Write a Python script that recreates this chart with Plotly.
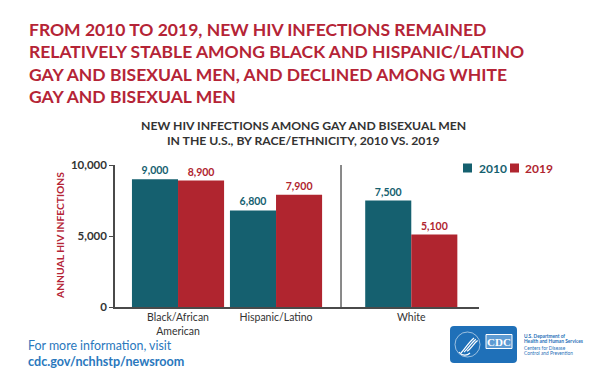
import plotly.graph_objects as go

# ---------------- data ----------------
categories = ["Black/African<br>American", "Hispanic/Latino", "White"]
series_names = ["2010", "2019"]
infections_2010 = [9000, 6800, 7500]
infections_2019 = [8900, 7900, 5100]
y_tick_values = [0, 5000, 10000]

title_lines = [
    "FROM 2010 TO 2019, NEW HIV INFECTIONS REMAINED",
    "RELATIVELY STABLE AMONG BLACK AND HISPANIC/LATINO",
    "GAY AND BISEXUAL MEN, AND DECLINED AMONG WHITE",
    "GAY AND BISEXUAL MEN",
]
subtitle_lines = [
    "NEW HIV INFECTIONS AMONG GAY AND BISEXUAL MEN",
    "IN THE U.S., BY RACE/ETHNICITY, 2010 VS. 2019",
]
y_title = "ANNUAL HIV INFECTIONS"
footer_lines = ["For more information, visit", "cdc.gov/nchhstp/newsroom"]
agency_lines = ["U.S. Department of", "Health and Human Services",
                "Centers for Disease", "Control and Prevention"]

# ---------------- layout constants ----------------
W, H = 600, 390
PL, PR, PT, PB = 115, 479, 165, 307          # plot area in pixels
GROUP_X = [0.0, 1.0, 2.38]                   # group centre positions
X_RANGE = [-0.643, 3.071]
SEP_X = 1.663

TEAL = "#15606f"
RED = "#b0252f"
CRIMSON = "#b52436"
GREY = "#333333"
AXIS = "#4a4a4a"
BLUE = "#2a78bd"
LOGO = "#1f70b8"

FONT = "Lato"


def px(x):
    return (x - PL) / (PR - PL)


def py(y):
    return (PB - y) / (PB - PT)


fig = go.Figure()
for name, vals, color in [(series_names[0], infections_2010, TEAL),
                          (series_names[1], infections_2019, RED)]:
    fig.add_bar(
        x=GROUP_X, y=vals, name=name,
        marker=dict(color=color, line=dict(width=0)),
        texttemplate="<b>%{y:,}</b>", textposition="outside",
        textfont=dict(family=FONT, size=10.5, color=color),
        cliponaxis=False, constraintext="none",
        showlegend=False, hoverinfo="skip",
    )

annotations = []
shapes = []

# title
title_y = [29.3, 51.7, 74.0, 96.7]
for line, yy in zip(title_lines, title_y):
    annotations.append(dict(
        text="<b>" + line + "</b>", x=px(27), y=py(yy), xref="paper", yref="paper",
        xanchor="left", yanchor="middle", showarrow=False,
        font=dict(family=FONT, size=17.5, color=CRIMSON)))

# subtitle
for line, yy in zip(subtitle_lines, [125, 140]):
    annotations.append(dict(
        text="<b>" + line + "</b>", x=px(303), y=py(yy), xref="paper", yref="paper",
        xanchor="center", yanchor="middle", showarrow=False,
        font=dict(family=FONT, size=12.2, color=GREY)))

# y-axis title
annotations.append(dict(
    text="<b>" + y_title + "</b>", x=px(60), y=py(236), xref="paper", yref="paper",
    xanchor="center", yanchor="middle", textangle=-90, showarrow=False,
    font=dict(family=FONT, size=10.3, color=CRIMSON)))

# legend (squares + coloured labels)
for (x0, x1, tx), name, color in [((463, 472, 477), series_names[0], TEAL),
                                  ((510, 519, 523), series_names[1], RED)]:
    shapes.append(dict(type="rect", xref="paper", yref="paper",
                       x0=px(x0), x1=px(x1), y0=py(172.5), y1=py(163.5),
                       fillcolor=color, line=dict(width=0)))
    annotations.append(dict(
        text="<b>" + name + "</b>", x=px(tx), y=py(168), xref="paper", yref="paper",
        xanchor="left", yanchor="middle", showarrow=False,
        font=dict(family=FONT, size=12, color=color)))

# separator between groups
shapes.append(dict(type="line", xref="x", yref="y domain", x0=SEP_X, x1=SEP_X,
                   y0=0, y1=1, line=dict(color=AXIS, width=1.3)))

# footer
annotations.append(dict(
    text=footer_lines[0], x=px(26), y=py(345), xref="paper", yref="paper",
    xanchor="left", yanchor="middle", showarrow=False,
    font=dict(family=FONT, size=12.4, color=BLUE)))
annotations.append(dict(
    text="<b>" + footer_lines[1] + "</b>", x=px(26), y=py(361), xref="paper", yref="paper",
    xanchor="left", yanchor="middle", showarrow=False,
    font=dict(family=FONT, size=12.6, color=BLUE)))


# CDC logo
def path_from(points_cmds):
    out = []
    for cmd, pts in points_cmds:
        out.append(cmd + " ".join(f"{px(a):.5f},{py(b):.5f}" for a, b in pts))
    return " ".join(out)


lx0, lx1, ly0, ly1, r = 450, 517, 326, 363, 4
logo_path = path_from([
    ("M", [(lx0 + r, ly0)]), ("L", [(lx1 - r, ly0)]), ("Q", [(lx1, ly0), (lx1, ly0 + r)]),
    ("L", [(lx1, ly1 - r)]), ("Q", [(lx1, ly1), (lx1 - r, ly1)]),
    ("L", [(lx0 + r, ly1)]), ("Q", [(lx0, ly1), (lx0, ly1 - r)]),
    ("L", [(lx0, ly0 + r)]), ("Q", [(lx0, ly0), (lx0 + r, ly0)]),
]) + " Z"
shapes.append(dict(type="path", xref="paper", yref="paper", path=logo_path,
                   fillcolor=LOGO, line=dict(width=0)))
# eagle circle
shapes.append(dict(type="circle", xref="paper", yref="paper",
                   x0=px(455), x1=px(480), y0=py(357), y1=py(332),
                   line=dict(color="rgba(255,255,255,0.7)", width=0.8)))
# eagle stripes
for dx in [0, 3, 6]:
    p = path_from([("M", [(461 + dx, 353 - dx * 0.3)]),
                   ("C", [(465 + dx, 349), (468 + dx, 343), (474 + dx * 0.6, 338 + dx * 0.4)])])
    shapes.append(dict(type="path", xref="paper", yref="paper", path=p,
                       line=dict(color="white", width=1.2)))
shapes.append(dict(type="path", xref="paper", yref="paper",
                   path=path_from([("M", [(459, 352)]), ("C", [(462, 356), (467, 356), (470, 353)])]),
                   line=dict(color="white", width=1.2)))
# CDC box
shapes.append(dict(type="rect", xref="paper", yref="paper",
                   x0=px(486), x1=px(512), y0=py(348.5), y1=py(334.5),
                   fillcolor="#5d9bd3", line=dict(color="white", width=1)))
annotations.append(dict(
    text="<b>CDC</b>", x=px(499), y=py(341.5), xref="paper", yref="paper",
    xanchor="center", yanchor="middle", showarrow=False,
    font=dict(family="Liberation Serif", size=11, color="white")))
for i, (line, yy) in enumerate(zip(agency_lines, [335.5, 340.5, 348.0, 352.8])):
    txt = "<b>" + line + "</b>" if i < 2 else line
    annotations.append(dict(
        text=txt, x=px(522), y=py(yy), xref="paper", yref="paper",
        xanchor="left", yanchor="middle", showarrow=False,
        font=dict(family=FONT, size=4.8, color=LOGO)))

fig.update_layout(
    width=W, height=H,
    margin=dict(l=PL, r=W - PR, t=PT, b=H - PB, pad=0),
    paper_bgcolor="white", plot_bgcolor="white",
    barmode="group", bargap=0.06, bargroupgap=0,
    showlegend=False,
    xaxis=dict(range=X_RANGE, tickvals=GROUP_X, ticktext=categories,
               showline=True, linecolor=AXIS, linewidth=1.5, ticks="",
               showgrid=False, zeroline=False,
               tickfont=dict(family=FONT, size=10.5, color=GREY)),
    yaxis=dict(range=[0, 10000], tickvals=y_tick_values, tickformat=",",
               showline=True, linecolor=AXIS, linewidth=1.5,
               ticks="outside", ticklen=4, tickcolor=AXIS, tickwidth=1.3,
               showgrid=False, zeroline=False,
               tickfont=dict(family=FONT, size=11.5, color=GREY, weight="bold")),
    annotations=annotations,
    shapes=shapes,
)

fig.write_html("out.html", config={"displayModeBar": False},
               post_script="document.body.style.margin='0';document.body.style.padding='0';")
